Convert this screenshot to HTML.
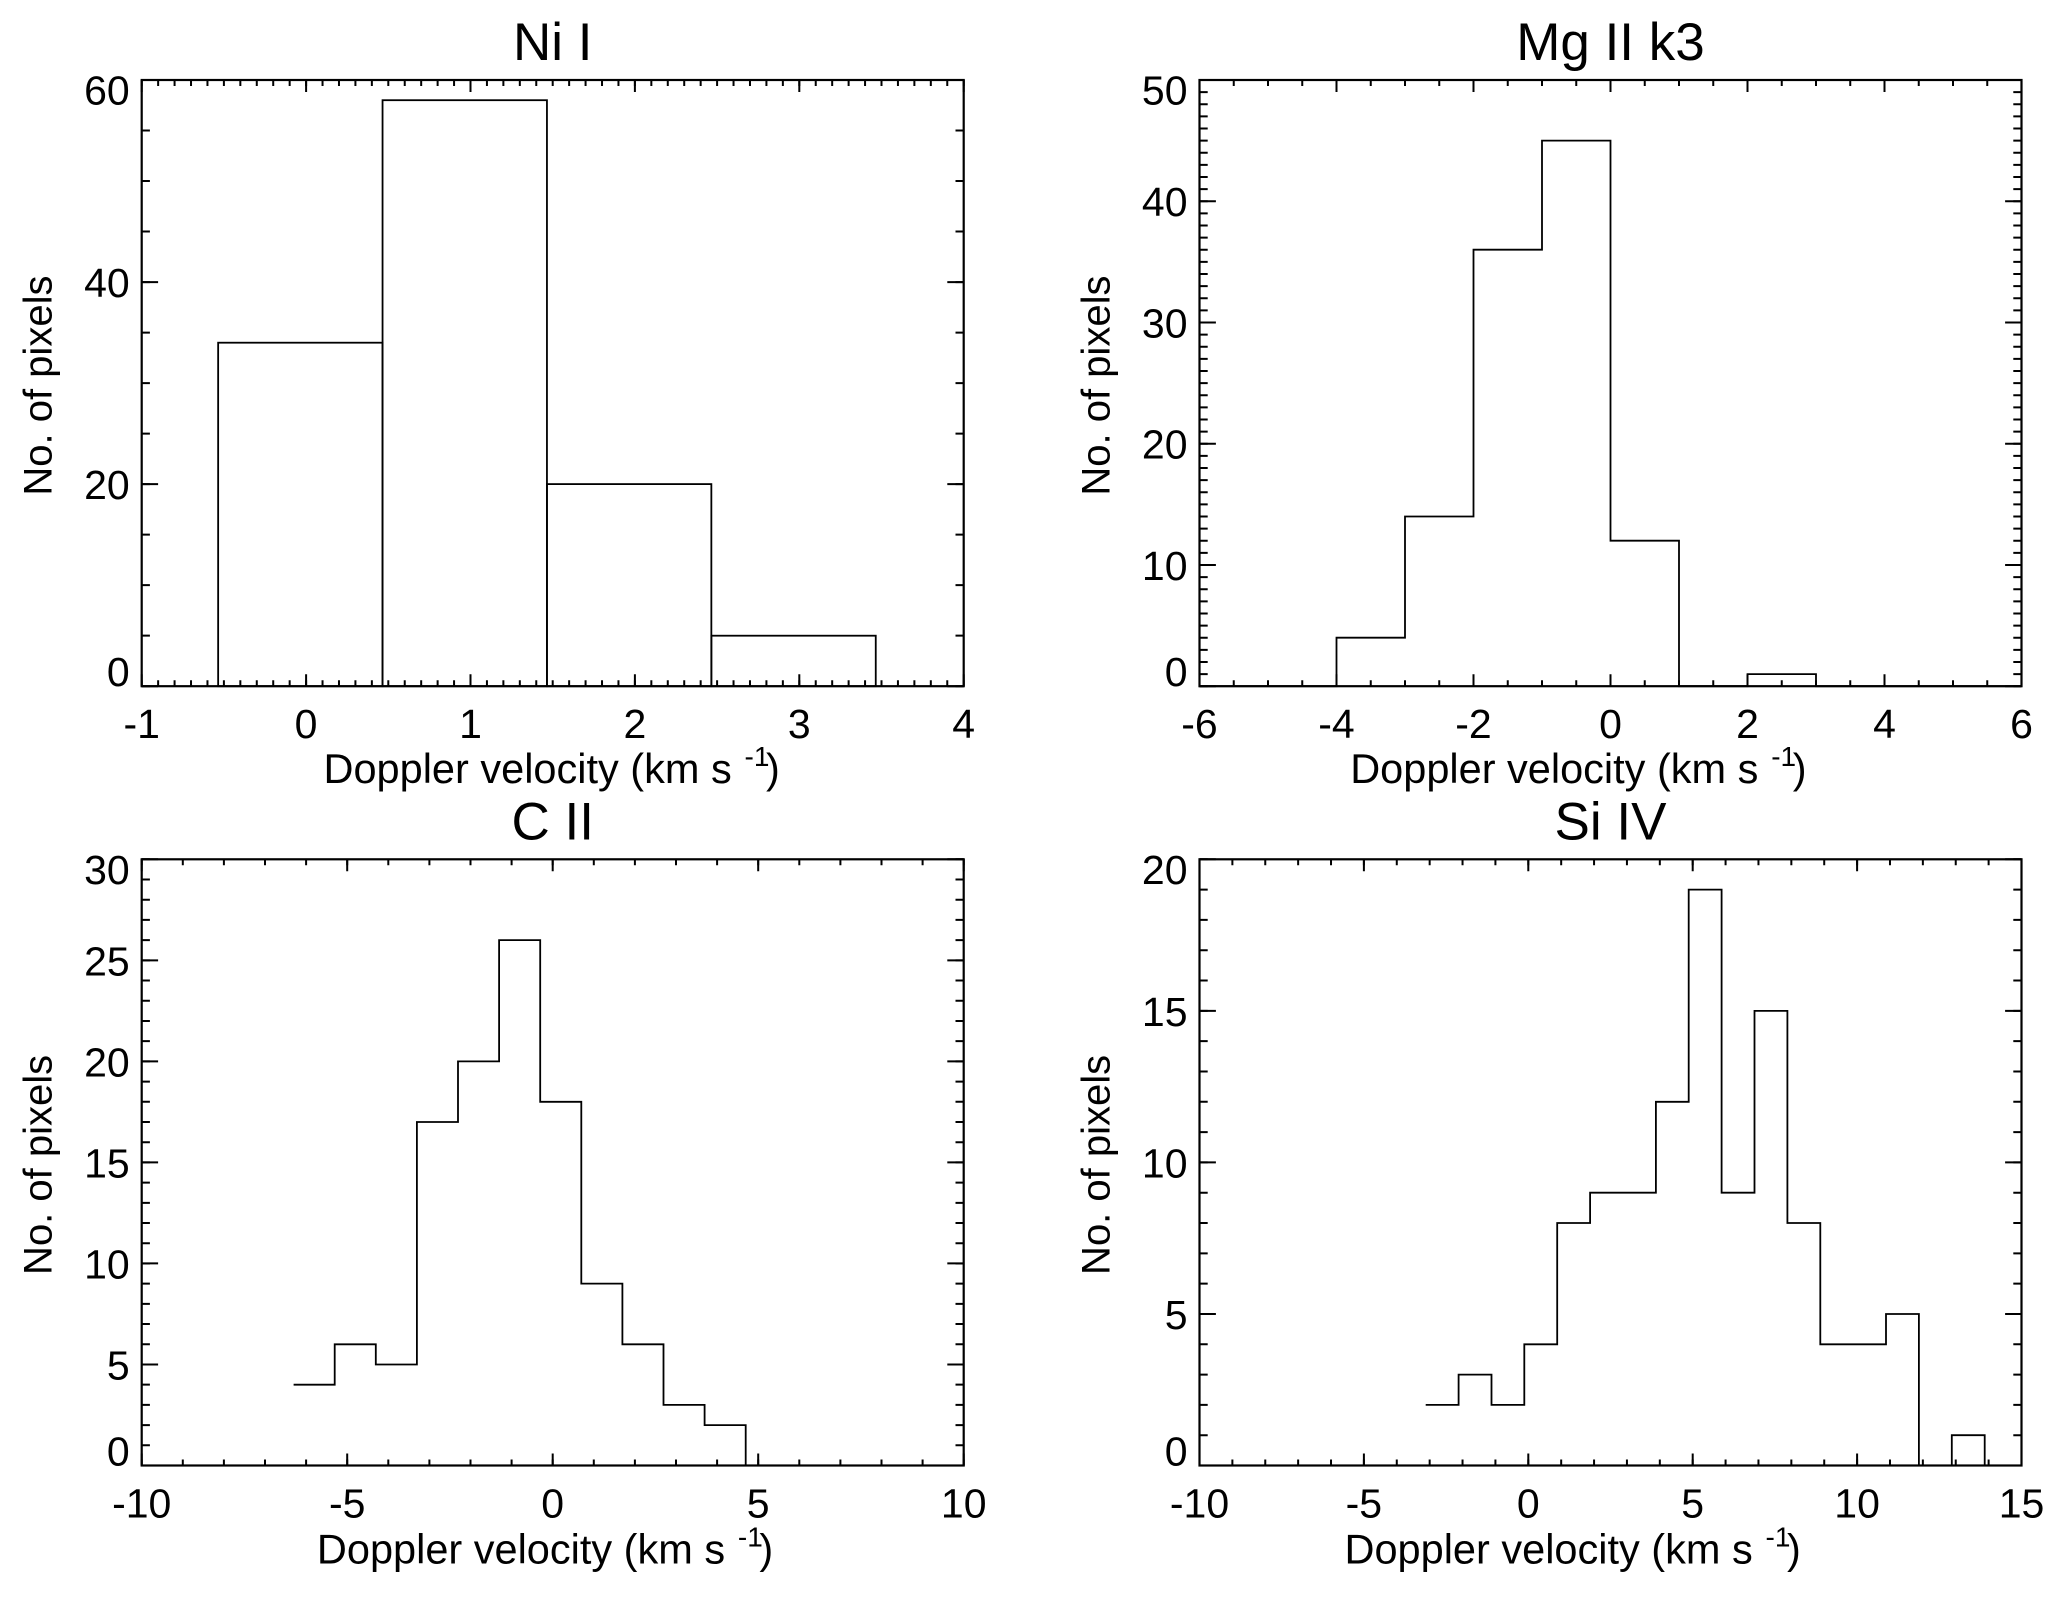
<!DOCTYPE html>
<html>
<head>
<meta charset="utf-8">
<style>
  html, body { margin: 0; padding: 0; background: #ffffff; }
  svg { display: block; }
  text { font-family: "Liberation Sans", Arial, Helvetica, sans-serif; fill: #000; }
</style>
</head>
<body>
<svg width="2067" height="1599" viewBox="0 0 2067 1599" xmlns="http://www.w3.org/2000/svg">
<rect x="0" y="0" width="2067" height="1599" fill="#ffffff"/>

<!-- ========== Panel 1: Ni I ========== -->
<g transform="translate(141.7,80)">
  <g stroke="#000" fill="none">
    <line x1="-1" y1="603.2" x2="823" y2="603.2" stroke-width="6" stroke-dasharray="2 14.44"/>
    <line x1="-1" y1="3" x2="823" y2="3" stroke-width="6" stroke-dasharray="2 14.44"/>
    <line x1="-1" y1="600.2" x2="823" y2="600.2" stroke-width="12" stroke-dasharray="2 162.4"/>
    <line x1="-1" y1="6" x2="823" y2="6" stroke-width="12" stroke-dasharray="2 162.4"/>
    <line x1="4.1" y1="-1" x2="4.1" y2="607.2" stroke-width="8.2" stroke-dasharray="2 48.517"/>
    <line x1="817.9" y1="-1" x2="817.9" y2="607.2" stroke-width="8.2" stroke-dasharray="2 48.517"/>
    <line x1="8.2" y1="-1" x2="8.2" y2="607.2" stroke-width="16.4" stroke-dasharray="2 200.07"/>
    <line x1="813.8" y1="-1" x2="813.8" y2="607.2" stroke-width="16.4" stroke-dasharray="2 200.07"/>
    <rect x="0" y="0" width="822" height="606.2" stroke-width="2.2"/>
    <g stroke-width="1.8">
      <rect x="76.45" y="262.7" width="164.4" height="343.5"/>
      <rect x="240.85" y="20.2" width="164.4" height="586"/>
      <rect x="405.25" y="404.1" width="164.4" height="202.1"/>
      <rect x="569.65" y="555.7" width="164.4" height="50.5"/>
    </g>
  </g>
  <g font-size="41" text-anchor="middle">
    <text x="0" y="658">-1</text>
    <text x="164.4" y="658">0</text>
    <text x="328.8" y="658">1</text>
    <text x="493.2" y="658">2</text>
    <text x="657.6" y="658">3</text>
    <text x="822" y="658">4</text>
  </g>
  <g font-size="41" text-anchor="end">
    <text x="-12" y="606.2">0</text>
    <text x="-12" y="419.1">20</text>
    <text x="-12" y="217.1">40</text>
    <text x="-12" y="24.5">60</text>
  </g>
  <text x="411" y="-20" font-size="53" text-anchor="middle">Ni I</text>
  <text transform="translate(-90.2,305.6) rotate(-90)" x="0" y="0" font-size="40" text-anchor="middle">No. of pixels</text>
  <text x="181.8" y="703" font-size="41.5">Doppler velocity (km s</text>
  <text x="602.8" y="686" font-size="28">-1</text>
  <text x="624.3" y="703" font-size="41.5">)</text>
</g>

<!-- ========== Panel 2: Mg II k3 ========== -->
<g transform="translate(1199.5,80)">
  <g stroke="#000" fill="none">
    <line x1="-1" y1="603.2" x2="823" y2="603.2" stroke-width="6" stroke-dasharray="2 32.25"/>
    <line x1="-1" y1="3" x2="823" y2="3" stroke-width="6" stroke-dasharray="2 32.25"/>
    <line x1="-1" y1="600.2" x2="823" y2="600.2" stroke-width="12" stroke-dasharray="2 135"/>
    <line x1="-1" y1="6" x2="823" y2="6" stroke-width="12" stroke-dasharray="2 135"/>
    <line x1="4.1" y1="-1" x2="4.1" y2="607.2" stroke-width="8.2" stroke-dasharray="2 10.124"/>
    <line x1="817.9" y1="-1" x2="817.9" y2="607.2" stroke-width="8.2" stroke-dasharray="2 10.124"/>
    <line x1="8.2" y1="-1" x2="8.2" y2="607.2" stroke-width="16.4" stroke-dasharray="2 119.24"/>
    <line x1="813.8" y1="-1" x2="813.8" y2="607.2" stroke-width="16.4" stroke-dasharray="2 119.24"/>
    <rect x="0" y="0" width="822" height="606.2" stroke-width="2.2"/>
    <path stroke-width="1.8" d="M0,606.2 H137 V557.7 H205.5 V436.5 H274 V169.7 H342.5 V60.6 H411 V460.7 H479.5 V606.2 H548 V594.1 H616.5 V606.2 H822"/>
  </g>
  <g font-size="41" text-anchor="middle">
    <text x="0" y="658">-6</text>
    <text x="137" y="658">-4</text>
    <text x="274" y="658">-2</text>
    <text x="411" y="658">0</text>
    <text x="548" y="658">2</text>
    <text x="685" y="658">4</text>
    <text x="822" y="658">6</text>
  </g>
  <g font-size="41" text-anchor="end">
    <text x="-12" y="606.2">0</text>
    <text x="-12" y="500">10</text>
    <text x="-12" y="378.7">20</text>
    <text x="-12" y="257.5">30</text>
    <text x="-12" y="136.2">40</text>
    <text x="-12" y="24.5">50</text>
  </g>
  <text x="411" y="-20" font-size="53" text-anchor="middle">Mg II k3</text>
  <text transform="translate(-90.2,305.6) rotate(-90)" x="0" y="0" font-size="40" text-anchor="middle">No. of pixels</text>
  <text x="150.7" y="703" font-size="41.5">Doppler velocity (km s</text>
  <text x="571.7" y="686" font-size="28">-1</text>
  <text x="593.2" y="703" font-size="41.5">)</text>
</g>

<!-- ========== Panel 3: C II ========== -->
<g transform="translate(141.7,859.3)">
  <g stroke="#000" fill="none">
    <line x1="-1" y1="603.2" x2="823" y2="603.2" stroke-width="6" stroke-dasharray="2 39.1"/>
    <line x1="-1" y1="3" x2="823" y2="3" stroke-width="6" stroke-dasharray="2 39.1"/>
    <line x1="-1" y1="600.2" x2="823" y2="600.2" stroke-width="12" stroke-dasharray="2 203.5"/>
    <line x1="-1" y1="6" x2="823" y2="6" stroke-width="12" stroke-dasharray="2 203.5"/>
    <line x1="4.1" y1="-1" x2="4.1" y2="607.2" stroke-width="8.2" stroke-dasharray="2 18.207"/>
    <line x1="817.9" y1="-1" x2="817.9" y2="607.2" stroke-width="8.2" stroke-dasharray="2 18.207"/>
    <line x1="8.2" y1="-1" x2="8.2" y2="607.2" stroke-width="16.4" stroke-dasharray="2 99.033"/>
    <line x1="813.8" y1="-1" x2="813.8" y2="607.2" stroke-width="16.4" stroke-dasharray="2 99.033"/>
    <rect x="0" y="0" width="822" height="606.2" stroke-width="2.2"/>
    <path stroke-width="1.8" d="M151.9,525.4 H193.0 V485.0 H234.1 V505.2 H275.2 V262.7 H316.3 V202.1 H357.4 V80.8 H398.5 V242.5 H439.6 V424.3 H480.7 V485.0 H521.8 V545.6 H562.9 V565.8 H604.0 V606.2"/>
  </g>
  <g font-size="41" text-anchor="middle">
    <text x="0" y="658">-10</text>
    <text x="205.5" y="658">-5</text>
    <text x="411" y="658">0</text>
    <text x="616.5" y="658">5</text>
    <text x="822" y="658">10</text>
  </g>
  <g font-size="41" text-anchor="end">
    <text x="-12" y="606.2">0</text>
    <text x="-12" y="520.2">5</text>
    <text x="-12" y="419.1">10</text>
    <text x="-12" y="318.1">15</text>
    <text x="-12" y="217.1">20</text>
    <text x="-12" y="116.0">25</text>
    <text x="-12" y="24.5">30</text>
  </g>
  <text x="411" y="-20" font-size="53" text-anchor="middle">C II</text>
  <text transform="translate(-90.2,305.6) rotate(-90)" x="0" y="0" font-size="40" text-anchor="middle">No. of pixels</text>
  <text x="175.2" y="704" font-size="41.5">Doppler velocity (km s</text>
  <text x="596.2" y="687" font-size="28">-1</text>
  <text x="617.7" y="704" font-size="41.5">)</text>
</g>

<!-- ========== Panel 4: Si IV ========== -->
<g transform="translate(1199.5,859.3)">
  <g stroke="#000" fill="none">
    <line x1="-1" y1="603.2" x2="823" y2="603.2" stroke-width="6" stroke-dasharray="2 30.88"/>
    <line x1="-1" y1="3" x2="823" y2="3" stroke-width="6" stroke-dasharray="2 30.88"/>
    <line x1="-1" y1="600.2" x2="823" y2="600.2" stroke-width="12" stroke-dasharray="2 162.4"/>
    <line x1="-1" y1="6" x2="823" y2="6" stroke-width="12" stroke-dasharray="2 162.4"/>
    <line x1="4.1" y1="-1" x2="4.1" y2="607.2" stroke-width="8.2" stroke-dasharray="2 28.31"/>
    <line x1="817.9" y1="-1" x2="817.9" y2="607.2" stroke-width="8.2" stroke-dasharray="2 28.31"/>
    <line x1="8.2" y1="-1" x2="8.2" y2="607.2" stroke-width="16.4" stroke-dasharray="2 149.55"/>
    <line x1="813.8" y1="-1" x2="813.8" y2="607.2" stroke-width="16.4" stroke-dasharray="2 149.55"/>
    <rect x="0" y="0" width="822" height="606.2" stroke-width="2.2"/>
    <path stroke-width="1.8" d="M226.2,545.6 H259.1 V515.3 H292.0 V545.6 H324.8 V485.0 H357.7 V363.7 H390.6 V333.4 H456.4 V242.5 H489.2 V30.3 H522.1 V333.4 H555.0 V151.6 H587.9 V363.7 H620.8 V485.0 H686.5 V454.7 H719.4 V606.2 H752.3 V575.9 H785.2 V606.2"/>
  </g>
  <g font-size="41" text-anchor="middle">
    <text x="0" y="658">-10</text>
    <text x="164.4" y="658">-5</text>
    <text x="328.8" y="658">0</text>
    <text x="493.2" y="658">5</text>
    <text x="657.6" y="658">10</text>
    <text x="822" y="658">15</text>
  </g>
  <g font-size="41" text-anchor="end">
    <text x="-12" y="606.2">0</text>
    <text x="-12" y="469.7">5</text>
    <text x="-12" y="318.1">10</text>
    <text x="-12" y="166.6">15</text>
    <text x="-12" y="24.5">20</text>
  </g>
  <text x="411" y="-20" font-size="53" text-anchor="middle">Si IV</text>
  <text transform="translate(-90.2,305.6) rotate(-90)" x="0" y="0" font-size="40" text-anchor="middle">No. of pixels</text>
  <text x="145" y="704" font-size="41.5">Doppler velocity (km s</text>
  <text x="566" y="687" font-size="28">-1</text>
  <text x="587.5" y="704" font-size="41.5">)</text>
</g>
</svg>
</body>
</html>
